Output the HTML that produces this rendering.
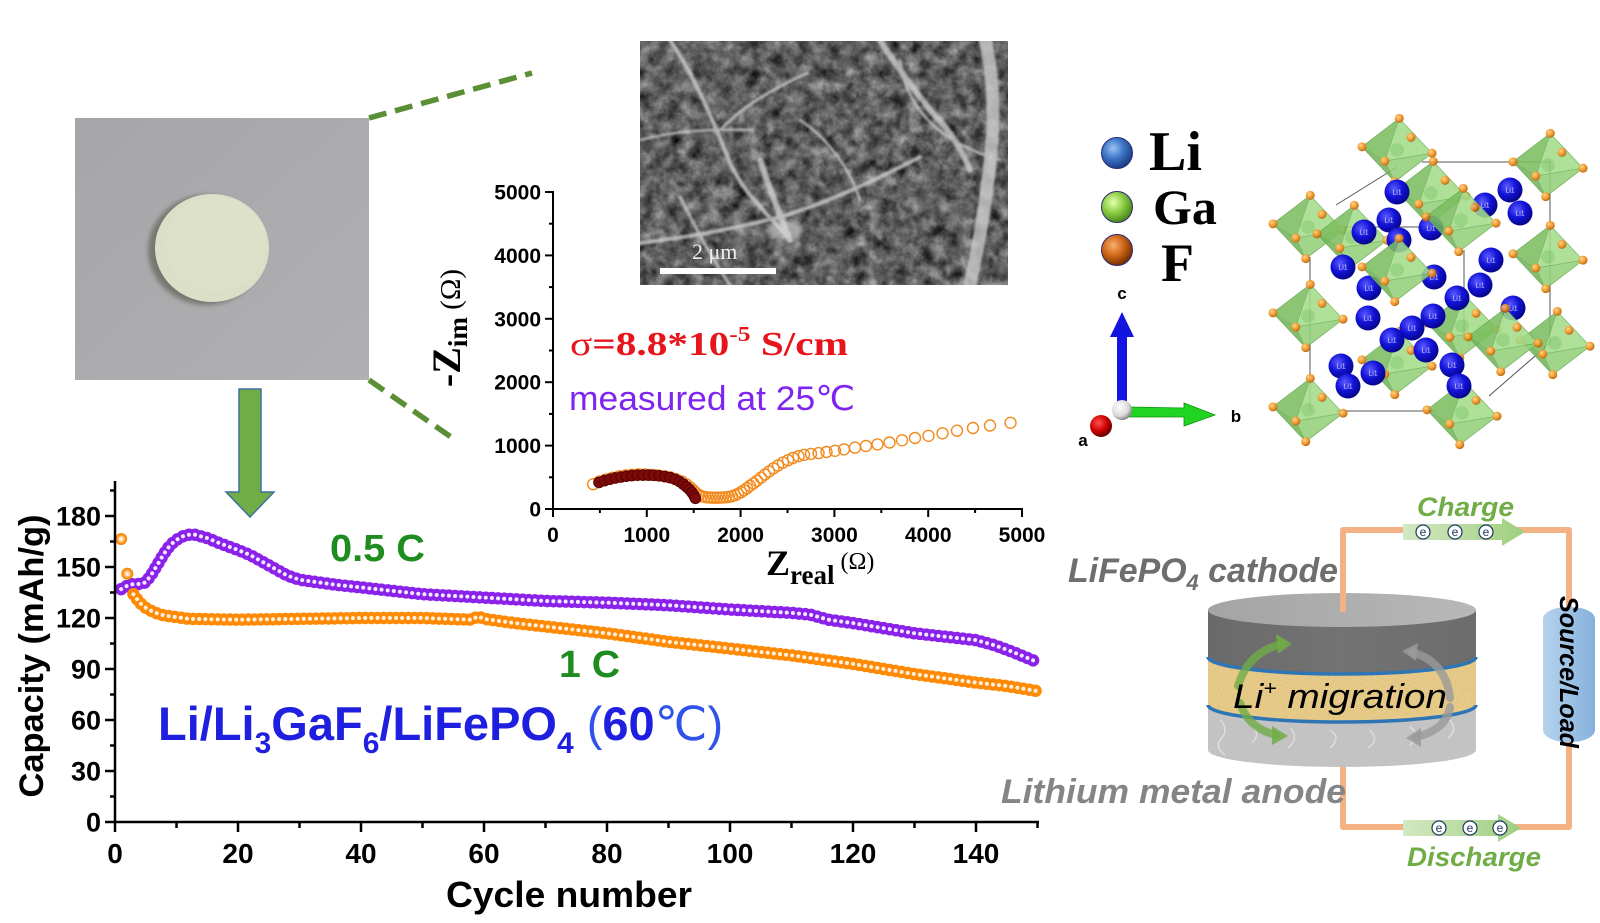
<!DOCTYPE html>
<html><head><meta charset="utf-8"><title>Li3GaF6 graphical abstract</title>
<style>html,body{margin:0;padding:0;background:#fff;}svg{display:block;}</style></head>
<body>
<svg width="1600" height="923" viewBox="0 0 1600 923" xmlns="http://www.w3.org/2000/svg" xmlns:xlink="http://www.w3.org/1999/xlink">
<defs>
  <radialGradient id="go" cx="0.5" cy="0.5" r="0.5">
    <stop offset="0" stop-color="#fffaf2"/><stop offset="0.3" stop-color="#ffe2bf"/>
    <stop offset="0.58" stop-color="#ffa640"/><stop offset="0.8" stop-color="#ff8c10"/><stop offset="1" stop-color="#f07c00"/>
  </radialGradient>
  <radialGradient id="gli" cx="0.38" cy="0.35" r="0.65">
    <stop offset="0" stop-color="#9cc4f2"/><stop offset="0.5" stop-color="#3f78c8"/><stop offset="1" stop-color="#1d3f86"/>
  </radialGradient>
  <radialGradient id="gga" cx="0.38" cy="0.35" r="0.65">
    <stop offset="0" stop-color="#e4ffb0"/><stop offset="0.5" stop-color="#8fd048"/><stop offset="1" stop-color="#4a8a1a"/>
  </radialGradient>
  <radialGradient id="gf" cx="0.38" cy="0.35" r="0.65">
    <stop offset="0" stop-color="#f7b070"/><stop offset="0.5" stop-color="#d06a1a"/><stop offset="1" stop-color="#7a3000"/>
  </radialGradient>
  <radialGradient id="gsph" cx="0.38" cy="0.35" r="0.65">
    <stop offset="0" stop-color="#5a5aff"/><stop offset="0.55" stop-color="#1212d8"/><stop offset="1" stop-color="#06068a"/>
  </radialGradient>
  <radialGradient id="gfo" cx="0.38" cy="0.35" r="0.65">
    <stop offset="0" stop-color="#ffd080"/><stop offset="0.6" stop-color="#f08c10"/><stop offset="1" stop-color="#b05a00"/>
  </radialGradient>
  <radialGradient id="gwhite" cx="0.38" cy="0.35" r="0.65">
    <stop offset="0" stop-color="#ffffff"/><stop offset="0.7" stop-color="#d8d8d8"/><stop offset="1" stop-color="#8a8a8a"/>
  </radialGradient>
  <radialGradient id="gred" cx="0.38" cy="0.35" r="0.65">
    <stop offset="0" stop-color="#ff5050"/><stop offset="0.6" stop-color="#cc0000"/><stop offset="1" stop-color="#6a0000"/>
  </radialGradient>
  <linearGradient id="gphoto" x1="0" y1="0" x2="1" y2="1">
    <stop offset="0" stop-color="#a6a6a8"/><stop offset="1" stop-color="#b0b0b2"/>
  </linearGradient>
  <linearGradient id="gtop" x1="0" y1="0" x2="1" y2="0">
    <stop offset="0" stop-color="#a4a4a4"/><stop offset="1" stop-color="#b8b8b8"/>
  </linearGradient>
  <linearGradient id="gdark" x1="0" y1="0" x2="1" y2="0">
    <stop offset="0" stop-color="#6a6a6a"/><stop offset="0.5" stop-color="#737373"/><stop offset="1" stop-color="#6c6c6c"/>
  </linearGradient>
  <linearGradient id="garrow" x1="0" y1="0" x2="1" y2="0">
    <stop offset="0" stop-color="#d3e8c2"/><stop offset="1" stop-color="#9fcf7e"/>
  </linearGradient>
  <linearGradient id="gtube" x1="0" y1="0" x2="1" y2="0">
    <stop offset="0" stop-color="#b7d2ee"/><stop offset="0.5" stop-color="#9dc3e6"/><stop offset="1" stop-color="#86b0dc"/>
  </linearGradient>
  <filter id="semf" x="640" y="41" width="368" height="244" filterUnits="userSpaceOnUse" color-interpolation-filters="sRGB">
    <feTurbulence type="fractalNoise" baseFrequency="0.075" numOctaves="4" seed="7"/>
    <feColorMatrix type="matrix" values="0.52 0.52 0 0 -0.15  0.52 0.52 0 0 -0.15  0.52 0.52 0 0 -0.15  0 0 0 0 1"/>
  </filter>
  <filter id="sandf" x="1200" y="640" width="290" height="90" filterUnits="userSpaceOnUse" color-interpolation-filters="sRGB">
    <feTurbulence type="fractalNoise" baseFrequency="0.6" numOctaves="2" seed="3"/>
    <feColorMatrix type="matrix" values="0 0 0 0 0.85  0 0 0 0 0.68  0 0 0 0 0.35  1.2 0 0 0 -0.55"/>
  </filter>
  <filter id="blur1"><feGaussianBlur stdDeviation="1"/></filter>
  <filter id="blur2"><feGaussianBlur stdDeviation="2.5"/></filter>
  <clipPath id="semclip"><rect x="640" y="41" width="368" height="244"/></clipPath>
  <clipPath id="yellowclip"><path d="M1208,657 L1208,705 A134,17 0 0 0 1476,705 L1476,657 A134,17 0 0 1 1208,657 Z"/></clipPath>

  <polyline id="pp" fill="none" points="121.15,589.1 127.3,585.7 133.45,584 139.6,584 145.75,582.3 151.9,573.8 158.05,563.6 164.2,553.4 170.35,544.9 176.5,539.8 182.65,536.4 188.8,534.7 194.95,534.7 201.1,536.4 207.25,538.1 219.55,543.2 238,550 250.3,555.1 268.75,565.3 287.2,575.5 299.5,579.75 317.95,582.3 336.4,584.85 361,587.4 391.75,590.8 422.5,594.2 453.25,595.9 484,597.6 545.5,601 607,602.7 668.5,605.25 730,609.5 760.75,611.2 791.5,612.9 809.95,614.6 828.4,619.7 853,623.1 883.75,628.2 914.5,633.3 945.25,636.7 976,640.1 994.45,645.2 1012.9,652 1025.2,657.1 1037.5,662.2"/>
  <polyline id="op" fill="none" points="133.45,594.2 139.6,602.7 145.75,607.8 151.9,611.2 158.05,613.75 164.2,615.45 176.5,617.15 188.8,618.85 238,619.7 299.5,618.85 361,618 422.5,618 471.7,619.7 477.85,616.3 484,618.85 514.75,623.1 545.5,626.5 607,633.3 668.5,641.8 730,648.6 791.5,655.4 853,663.9 914.5,674.1 976,682.6 1006.75,686 1037.5,691.1"/>

  <g id="oct" opacity="0.88"><g transform="scale(1.13)">
    <polygon points="2,-28 12.4,-11.2 31,2.8 -2,28 -31,-2.8" fill="#8fcf74" stroke="#6aaa55" stroke-width="0.8"/>
    <polygon points="2,-28 -31,-2.8 -10.85,9.8" fill="#7dbf62" stroke="#6aaa55" stroke-width="0.6"/>
    <polygon points="2,-28 -10.85,9.8 31,2.8" fill="#a3dc8a" stroke="#6aaa55" stroke-width="0.6"/>
    <polygon points="-2,28 -10.85,9.8 -31,-2.8" fill="#74b45a" stroke="#6aaa55" stroke-width="0.6"/>
    <polygon points="-2,28 31,2.8 -10.85,9.8" fill="#94d07b" stroke="#6aaa55" stroke-width="0.6"/>
    <circle cx="0" cy="0" r="6" fill="#7cc466" opacity="0.6"/>
    <circle cx="2" cy="-28" r="4" fill="url(#gfo)"/><circle cx="-2" cy="28" r="4" fill="url(#gfo)"/>
    <circle cx="-31" cy="-2.8" r="4" fill="url(#gfo)"/><circle cx="31" cy="2.8" r="4" fill="url(#gfo)"/>
    <circle cx="-10.85" cy="9.8" r="4" fill="url(#gfo)"/><circle cx="12.4" cy="-11.2" r="4" fill="url(#gfo)"/>
  </g></g>
  <g id="lis">
    <circle cx="0" cy="0" r="12.5" fill="url(#gsph)"/>
    <text x="0" y="2.5" font-family="Liberation Sans, sans-serif" font-size="7" text-anchor="middle" fill="#dcdcff">Li1</text>
  </g>
</defs>

<rect x="0" y="0" width="1600" height="923" fill="#ffffff"/>

<!-- Photo of pellet -->
<rect x="75" y="118" width="294" height="262" fill="url(#gphoto)"/>
<ellipse cx="206" cy="250" rx="58" ry="55" fill="#6e6e68" filter="url(#blur2)" opacity="0.85"/>
<ellipse cx="212" cy="248" rx="57" ry="54" fill="#dcdfc7"/>
<ellipse cx="216" cy="244" rx="50" ry="47" fill="#dfe2cb" opacity="0.6"/>

<!-- dashed zoom lines -->
<line x1="369" y1="118" x2="532" y2="73" stroke="#5b8f36" stroke-width="5.5" stroke-dasharray="18 9"/>
<line x1="369" y1="380" x2="451" y2="437" stroke="#5b8f36" stroke-width="5.5" stroke-dasharray="18 9"/>

<!-- green down arrow -->
<polygon points="239,389 261,389 261,492 274,492 250,517 226,492 239,492" fill="#70ad47" stroke="#41719c" stroke-width="1.5"/>

<!-- SEM image -->
<g clip-path="url(#semclip)">
  <rect x="640" y="41" width="368" height="244" fill="#5e5e5e"/>
  <rect x="640" y="41" width="368" height="244" filter="url(#semf)"/>
  <g fill="none" stroke="#d4d4d4" stroke-linecap="round" opacity="0.75" filter="url(#blur1)">
    <path d="M670,40 C690,70 705,100 730,163 C745,195 765,210 787,237" stroke-width="4"/>
    <path d="M880,40 C895,65 910,83 930,110 C950,130 962,150 970,170" stroke-width="6"/>
    <path d="M985,40 C995,80 995,130 988,180 C982,230 975,260 970,285" stroke-width="13"/>
    <path d="M640,243 C680,238 720,232 780,217 C820,205 860,188 920,157" stroke-width="4"/>
    <path d="M720,130 C740,110 760,95 807,73" stroke-width="3"/>
    <path d="M640,140 C660,135 690,128 753,130" stroke-width="2.5"/>
    <path d="M680,197 C690,215 700,240 730,285" stroke-width="3"/>
    <path d="M760,160 C770,190 778,210 790,240" stroke-width="6"/>
    <path d="M800,120 C830,140 850,170 860,200" stroke-width="2.5"/>
    <path d="M900,60 C905,100 930,140 1000,160" stroke-width="2.5"/>
  </g>
  <ellipse cx="785" cy="230" rx="18" ry="10" fill="#dedede" opacity="0.55" filter="url(#blur2)"/>
  <rect x="660" y="268" width="116" height="6" fill="#ffffff"/>
  <text x="692" y="259" font-family="Liberation Serif, serif" font-size="22" fill="#eeeeee">2 μm</text>
</g>

<!-- Nyquist plot axes -->
<g stroke="#000" stroke-width="2" fill="none">
  <line x1="553" y1="191" x2="553" y2="510"/>
  <line x1="552" y1="509" x2="1023" y2="509"/>
  <line x1="545" y1="509" x2="553" y2="509"/><line x1="545" y1="445.6" x2="553" y2="445.6"/>
  <line x1="545" y1="382.2" x2="553" y2="382.2"/><line x1="545" y1="318.8" x2="553" y2="318.8"/>
  <line x1="545" y1="255.4" x2="553" y2="255.4"/><line x1="545" y1="192" x2="553" y2="192"/>
  <line x1="549" y1="477.3" x2="553" y2="477.3"/><line x1="549" y1="413.9" x2="553" y2="413.9"/>
  <line x1="549" y1="350.5" x2="553" y2="350.5"/><line x1="549" y1="287.1" x2="553" y2="287.1"/>
  <line x1="549" y1="223.7" x2="553" y2="223.7"/>
  <line x1="553" y1="509" x2="553" y2="517"/><line x1="646.8" y1="509" x2="646.8" y2="517"/>
  <line x1="740.6" y1="509" x2="740.6" y2="517"/><line x1="834.4" y1="509" x2="834.4" y2="517"/>
  <line x1="928.2" y1="509" x2="928.2" y2="517"/><line x1="1022" y1="509" x2="1022" y2="517"/>
  <line x1="599.9" y1="509" x2="599.9" y2="513"/><line x1="693.7" y1="509" x2="693.7" y2="513"/>
  <line x1="787.5" y1="509" x2="787.5" y2="513"/><line x1="881.3" y1="509" x2="881.3" y2="513"/>
  <line x1="975.1" y1="509" x2="975.1" y2="513"/>
</g>
<g font-family="Liberation Sans, Arial, sans-serif" font-weight="bold" font-size="21" fill="#000">
  <g text-anchor="end">
    <text x="541" y="516.5">0</text><text x="541" y="453">1000</text><text x="541" y="389.7">2000</text>
    <text x="541" y="326.3">3000</text><text x="541" y="263">4000</text><text x="541" y="199.5">5000</text>
  </g>
  <g text-anchor="middle">
    <text x="553" y="542">0</text><text x="646.8" y="542">1000</text><text x="740.6" y="542">2000</text>
    <text x="834.4" y="542">3000</text><text x="928.2" y="542">4000</text><text x="1022" y="542">5000</text>
  </g>
</g>
<text transform="translate(460,328) rotate(-90)" text-anchor="middle" font-family="Liberation Serif, serif" fill="#000"><tspan font-weight="bold" font-size="40">-Z</tspan><tspan font-weight="bold" font-size="27" dy="7">im</tspan><tspan font-size="29" dy="-7"> (Ω)</tspan></text>
<text x="766" y="575" font-family="Liberation Serif, serif" fill="#000"><tspan font-weight="bold" font-size="36">Z</tspan><tspan font-weight="bold" font-size="27" dy="9">real</tspan><tspan font-size="24" dy="-15"> (Ω)</tspan></text>

<text x="570" y="355" font-family="Liberation Serif, serif" font-size="34" fill="#e8141c" textLength="278" lengthAdjust="spacingAndGlyphs"><tspan>σ</tspan><tspan font-weight="bold">=8.8*10</tspan><tspan font-weight="bold" font-size="21" dy="-14">-5</tspan><tspan font-weight="bold" dy="14"> S/cm</tspan></text>
<text x="569" y="410" font-family="Liberation Sans, DejaVu Sans, Noto Sans CJK SC, sans-serif" font-size="34" fill="#8024f2" textLength="286" lengthAdjust="spacingAndGlyphs">measured at 25℃</text>

<!-- Nyquist data: open orange circles -->
<g fill="none" stroke="#f28a1e" stroke-width="1.4">
<circle cx="593.2" cy="484.2" r="5.5"/><circle cx="599.5" cy="481.5" r="5.5"/><circle cx="606" cy="479.4" r="5.5"/><circle cx="612.5" cy="477.8" r="5.5"/><circle cx="619" cy="476.3" r="5.5"/><circle cx="625.5" cy="475.4" r="5.5"/><circle cx="632" cy="474.7" r="5.5"/><circle cx="638.5" cy="474.3" r="5.5"/><circle cx="645" cy="474.4" r="5.5"/><circle cx="651.5" cy="474.8" r="5.5"/><circle cx="658" cy="475.4" r="5.5"/><circle cx="664.5" cy="476.3" r="5.5"/><circle cx="670.5" cy="477.4" r="5.5"/><circle cx="676.5" cy="479.3" r="5.5"/><circle cx="682" cy="481.6" r="5.5"/><circle cx="686.5" cy="484.5" r="5.5"/><circle cx="690.5" cy="487.6" r="5.5"/>
<circle cx="693.5" cy="490.5" r="5.5"/><circle cx="696" cy="493" r="5.5"/><circle cx="699" cy="495" r="5.5"/><circle cx="702" cy="496.3" r="5.5"/><circle cx="705" cy="497" r="5.5"/><circle cx="708" cy="497.4" r="5.5"/><circle cx="711" cy="497.6" r="5.5"/><circle cx="714" cy="497.7" r="5.5"/><circle cx="717" cy="497.7" r="5.5"/><circle cx="720" cy="497.6" r="5.5"/><circle cx="723" cy="497.4" r="5.5"/><circle cx="726" cy="497.2" r="5.5"/><circle cx="729" cy="496.8" r="5.5"/><circle cx="732" cy="496.2" r="5.5"/><circle cx="735" cy="495.2" r="5.5"/><circle cx="738" cy="493.8" r="5.5"/><circle cx="741" cy="492.2" r="5.5"/><circle cx="744" cy="490.3" r="5.5"/><circle cx="747" cy="488.2" r="5.5"/>
<circle cx="750" cy="485.8" r="5.5"/><circle cx="753.5" cy="483.4" r="5.5"/><circle cx="757" cy="480.8" r="5.5"/><circle cx="761" cy="477.6" r="5.5"/><circle cx="765" cy="474.5" r="5.5"/><circle cx="769" cy="471.5" r="5.5"/><circle cx="773.5" cy="468.4" r="5.5"/><circle cx="778" cy="465.5" r="5.5"/><circle cx="783" cy="462.6" r="5.5"/><circle cx="788" cy="460.2" r="5.5"/><circle cx="793" cy="458" r="5.5"/><circle cx="798.5" cy="456.1" r="5.5"/><circle cx="804" cy="454.9" r="5.5"/>
<circle cx="811" cy="453.9" r="5.5"/><circle cx="818.5" cy="453.1" r="5.5"/><circle cx="826.5" cy="452" r="5.5"/><circle cx="835" cy="450.8" r="5.5"/><circle cx="844" cy="449.4" r="5.5"/>
<circle cx="855" cy="447.6" r="5.5"/><circle cx="866" cy="446" r="5.5"/><circle cx="877.5" cy="444.4" r="5.5"/><circle cx="889.5" cy="442.5" r="5.5"/><circle cx="902" cy="440.3" r="5.5"/><circle cx="915" cy="438" r="5.5"/><circle cx="928.5" cy="435.8" r="5.5"/><circle cx="942.5" cy="433.3" r="5.5"/><circle cx="957" cy="430.7" r="5.5"/><circle cx="973" cy="428" r="5.5"/><circle cx="990" cy="425.5" r="5.5"/><circle cx="1010.5" cy="422.8" r="5.5"/>
</g>
<!-- Nyquist data: filled dark red -->
<g fill="#7d0a0a" stroke="#5a0000" stroke-width="1">
<circle cx="599" cy="482.4" r="5.3"/><circle cx="604.5" cy="480.6" r="5.3"/><circle cx="610" cy="479.2" r="5.3"/><circle cx="615.5" cy="477.9" r="5.3"/><circle cx="621" cy="477" r="5.3"/><circle cx="626.5" cy="476.2" r="5.3"/><circle cx="632" cy="475.6" r="5.3"/><circle cx="637.5" cy="475.2" r="5.3"/><circle cx="643" cy="475.1" r="5.3"/><circle cx="648.5" cy="475.1" r="5.3"/><circle cx="654" cy="475.3" r="5.3"/><circle cx="659.5" cy="475.8" r="5.3"/><circle cx="665" cy="476.6" r="5.3"/><circle cx="670" cy="477.6" r="5.3"/><circle cx="675" cy="479.3" r="5.3"/><circle cx="679.5" cy="481.5" r="5.3"/><circle cx="683.2" cy="484.1" r="5.3"/><circle cx="686.5" cy="486.8" r="5.3"/><circle cx="689.5" cy="489.5" r="5.3"/><circle cx="692" cy="492.5" r="5.3"/><circle cx="694" cy="495.5" r="5.3"/><circle cx="695.4" cy="498.3" r="5.3"/>
</g>

<!-- Legend Li Ga F -->
<circle cx="1117" cy="153" r="15.5" fill="url(#gli)" stroke="#2a2a7a" stroke-width="1"/>
<circle cx="1117" cy="207" r="15.5" fill="url(#gga)" stroke="#2a2a7a" stroke-width="1"/>
<circle cx="1117" cy="250" r="15.5" fill="url(#gf)" stroke="#2a2a7a" stroke-width="1"/>
<g font-family="Liberation Serif, serif" font-weight="bold" fill="#000">
  <text x="1149" y="170" font-size="56">Li</text>
  <text x="1153" y="224" font-size="50">Ga</text>
  <text x="1161" y="281" font-size="54">F</text>
</g>

<!-- axis triad -->
<g font-family="Liberation Sans, Arial, sans-serif" font-weight="bold" font-size="17" fill="#000" text-anchor="middle">
  <text x="1122" y="299">c</text><text x="1236" y="422">b</text><text x="1083" y="446">a</text>
</g>
<rect x="1117" y="335" width="10" height="70" fill="#1414e0"/>
<polygon points="1110,337 1134,337 1122,312" fill="#1414e0"/>
<polygon points="1128,407 1184,408 1184,403 1215,415 1184,426 1184,417 1128,417" fill="#22d422" stroke="#109010" stroke-width="0.8"/>
<circle cx="1101" cy="426" r="11" fill="url(#gred)"/>
<circle cx="1122" cy="410" r="10" fill="url(#gwhite)"/>

<!-- crystal structure -->
<g stroke="#555" stroke-width="1" fill="none">
  <line x1="1422" y1="162" x2="1550" y2="162"/><line x1="1550" y1="162" x2="1550" y2="343"/>
  <line x1="1550" y1="343" x2="1489" y2="396"/><line x1="1336" y1="205" x2="1397" y2="167"/>
  <line x1="1310" y1="257" x2="1310" y2="410"/><line x1="1336" y1="411" x2="1436" y2="411"/>
  <line x1="1336" y1="227" x2="1464" y2="227"/><line x1="1464" y1="250" x2="1464" y2="340"/>
</g>
<use href="#oct" xlink:href="#oct" x="1397" y="150"/>
<use href="#oct" xlink:href="#oct" x="1308" y="227"/>
<use href="#oct" xlink:href="#oct" x="1431" y="193"/>
<use href="#oct" xlink:href="#oct" x="1548" y="257"/>
<use href="#oct" xlink:href="#oct" x="1352" y="237"/>
<use href="#oct" xlink:href="#oct" x="1308" y="316"/>
<use href="#oct" xlink:href="#oct" x="1462" y="326"/>
<use href="#oct" xlink:href="#oct" x="1555" y="343"/>
<use href="#oct" xlink:href="#oct" x="1397" y="363"/>
<use href="#oct" xlink:href="#oct" x="1462" y="413"/>
<g>
<use href="#lis" xlink:href="#lis" x="1397" y="192"/><use href="#lis" xlink:href="#lis" x="1510" y="190"/>
<use href="#lis" xlink:href="#lis" x="1485" y="205"/><use href="#lis" xlink:href="#lis" x="1520" y="213"/>
<use href="#lis" xlink:href="#lis" x="1389" y="220"/><use href="#lis" xlink:href="#lis" x="1364" y="232"/>
<use href="#lis" xlink:href="#lis" x="1399" y="240"/><use href="#lis" xlink:href="#lis" x="1431" y="228"/>
<use href="#lis" xlink:href="#lis" x="1491" y="260"/><use href="#lis" xlink:href="#lis" x="1343" y="267"/>
<use href="#lis" xlink:href="#lis" x="1434" y="277"/><use href="#lis" xlink:href="#lis" x="1369" y="288"/>
<use href="#lis" xlink:href="#lis" x="1480" y="285"/><use href="#lis" xlink:href="#lis" x="1457" y="298"/>
<use href="#lis" xlink:href="#lis" x="1433" y="316"/><use href="#lis" xlink:href="#lis" x="1368" y="318"/>
<use href="#lis" xlink:href="#lis" x="1412" y="328"/><use href="#lis" xlink:href="#lis" x="1392" y="340"/>
<use href="#lis" xlink:href="#lis" x="1426" y="350"/><use href="#lis" xlink:href="#lis" x="1341" y="366"/>
<use href="#lis" xlink:href="#lis" x="1452" y="365"/><use href="#lis" xlink:href="#lis" x="1373" y="373"/>
<use href="#lis" xlink:href="#lis" x="1348" y="386"/><use href="#lis" xlink:href="#lis" x="1459" y="386"/>
<use href="#lis" xlink:href="#lis" x="1513" y="308"/>
</g>
<use href="#oct" xlink:href="#oct" x="1548" y="165"/>
<use href="#oct" xlink:href="#oct" x="1461" y="220"/>
<use href="#oct" xlink:href="#oct" x="1397" y="270"/>
<use href="#oct" xlink:href="#oct" x="1503" y="340"/>
<use href="#oct" xlink:href="#oct" x="1308" y="410"/>

<!-- Capacity data -->
<g fill="none" stroke-linecap="round" stroke-dasharray="0.01 6.14">
  <use href="#pp" xlink:href="#pp" stroke="#8a22ea" stroke-width="12.5"/>
  <use href="#pp" xlink:href="#pp" stroke="#f3eaff" stroke-width="4"/>
</g>
<circle cx="121.15" cy="538.95" r="6" fill="url(#go)"/>
<circle cx="127.3" cy="573.8" r="6" fill="url(#go)"/>
<g fill="none" stroke-linecap="round" stroke-dasharray="0.01 6.14">
  <use href="#op" xlink:href="#op" stroke="#ff8a05" stroke-width="12.5"/>
  <use href="#op" xlink:href="#op" stroke="#fff2e0" stroke-width="4"/>
</g>

<!-- Capacity axes -->
<g stroke="#000" stroke-width="2.5" fill="none">
  <line x1="115" y1="481" x2="115" y2="823"/>
  <line x1="114" y1="822" x2="1039" y2="822"/>
  <line x1="105" y1="822" x2="115" y2="822"/><line x1="110" y1="796.5" x2="115" y2="796.5"/>
  <line x1="105" y1="771" x2="115" y2="771"/><line x1="110" y1="745.5" x2="115" y2="745.5"/>
  <line x1="105" y1="720" x2="115" y2="720"/><line x1="110" y1="694.5" x2="115" y2="694.5"/>
  <line x1="105" y1="669" x2="115" y2="669"/><line x1="110" y1="643.5" x2="115" y2="643.5"/>
  <line x1="105" y1="618" x2="115" y2="618"/><line x1="110" y1="592.5" x2="115" y2="592.5"/>
  <line x1="105" y1="567" x2="115" y2="567"/><line x1="110" y1="541.5" x2="115" y2="541.5"/>
  <line x1="105" y1="516" x2="115" y2="516"/><line x1="110" y1="490.5" x2="115" y2="490.5"/>
  <line x1="115" y1="822" x2="115" y2="832"/><line x1="176.5" y1="822" x2="176.5" y2="828"/>
  <line x1="238" y1="822" x2="238" y2="832"/><line x1="299.5" y1="822" x2="299.5" y2="828"/>
  <line x1="361" y1="822" x2="361" y2="832"/><line x1="422.5" y1="822" x2="422.5" y2="828"/>
  <line x1="484" y1="822" x2="484" y2="832"/><line x1="545.5" y1="822" x2="545.5" y2="828"/>
  <line x1="607" y1="822" x2="607" y2="832"/><line x1="668.5" y1="822" x2="668.5" y2="828"/>
  <line x1="730" y1="822" x2="730" y2="832"/><line x1="791.5" y1="822" x2="791.5" y2="828"/>
  <line x1="853" y1="822" x2="853" y2="832"/><line x1="914.5" y1="822" x2="914.5" y2="828"/>
  <line x1="976" y1="822" x2="976" y2="832"/><line x1="1037.5" y1="822" x2="1037.5" y2="828"/>
</g>
<g font-family="Liberation Sans, Arial, sans-serif" font-weight="bold" fill="#000">
  <g font-size="27" text-anchor="end">
    <text x="101" y="831.5">0</text><text x="101" y="780.5">30</text><text x="101" y="729.5">60</text>
    <text x="101" y="678.5">90</text><text x="101" y="627.5">120</text><text x="101" y="576.5">150</text><text x="101" y="525.5">180</text>
  </g>
  <g font-size="28" text-anchor="middle">
    <text x="115" y="863">0</text><text x="238" y="863">20</text><text x="361" y="863">40</text><text x="484" y="863">60</text>
    <text x="607" y="863">80</text><text x="730" y="863">100</text><text x="853" y="863">120</text><text x="976" y="863">140</text>
  </g>
  <text x="446" y="907" font-size="36" textLength="246" lengthAdjust="spacingAndGlyphs">Cycle number</text>
  <text transform="translate(43,656) rotate(-90)" text-anchor="middle" font-size="34" textLength="283" lengthAdjust="spacingAndGlyphs">Capacity (mAh/g)</text>
  <text x="330" y="561" font-size="38" fill="#1e8c1e" textLength="95" lengthAdjust="spacingAndGlyphs">0.5 C</text>
  <text x="559" y="677" font-size="38" fill="#1e8c1e" textLength="61" lengthAdjust="spacingAndGlyphs">1 C</text>
</g>
<text x="158" y="740" font-family="Liberation Sans, DejaVu Sans, Noto Sans CJK SC, sans-serif" font-size="47" font-weight="bold" fill="#1f1fe0">Li/Li<tspan font-size="30" dy="13">3</tspan><tspan dy="-13">GaF</tspan><tspan font-size="30" dy="13">6</tspan><tspan dy="-13">/LiFePO</tspan><tspan font-size="30" dy="13">4</tspan><tspan dy="-13"> </tspan><tspan font-weight="normal" fill="#2f52ea">(</tspan><tspan>60</tspan><tspan font-weight="normal" fill="#2f52ea">℃)</tspan></text>

<!-- Battery schematic -->
<g fill="none" stroke="#f4b183" stroke-width="6" stroke-linejoin="round">
  <polyline points="1343,612 1343,530 1569,530 1569,827 1343,827 1343,760"/>
</g>
<rect x="1543" y="607" width="52" height="135" rx="24" ry="12" fill="url(#gtube)"/>
<polygon points="1403,524 1502,524 1502,518 1525,532 1502,546 1502,540 1403,540" fill="url(#garrow)"/>
<polygon points="1403,820 1498,820 1498,814 1521,828 1498,842 1498,836 1403,836" fill="url(#garrow)"/>
<g stroke="#1f3864" stroke-width="1.2" fill="#ffffff">
  <circle cx="1423" cy="532" r="7"/><circle cx="1455" cy="532" r="7"/><circle cx="1486" cy="532" r="7"/>
  <circle cx="1439" cy="828" r="7"/><circle cx="1470" cy="828" r="7"/><circle cx="1500" cy="828" r="7"/>
</g>
<g font-family="Liberation Sans, Arial, sans-serif" font-size="12" fill="#1f3864" text-anchor="middle">
  <text x="1423" y="536">e</text><text x="1455" y="536">e</text><text x="1486" y="536">e</text>
  <text x="1439" y="832">e</text><text x="1470" y="832">e</text><text x="1500" y="832">e</text>
</g>
<g font-family="Liberation Sans, Arial, sans-serif" font-weight="bold" font-style="italic" fill="#70ad47">
  <text x="1417" y="516" font-size="27" textLength="97" lengthAdjust="spacingAndGlyphs">Charge</text>
  <text x="1407" y="866" font-size="27" textLength="134" lengthAdjust="spacingAndGlyphs">Discharge</text>
</g>

<path d="M1208,705 L1208,750 A134,17 0 0 0 1476,750 L1476,705 A134,17 0 0 1 1208,705 Z" fill="#c3c3c3"/>
<g fill="none" stroke="#e4e4e4" stroke-width="1.5" opacity="0.8">
  <path d="M1220,720 q10,10 0,20 q-5,8 5,15"/><path d="M1250,725 q12,8 2,18"/><path d="M1290,728 q10,10 -2,20"/>
  <path d="M1330,730 q12,8 0,18"/><path d="M1370,730 q10,10 -2,18"/><path d="M1410,727 q12,8 0,18"/><path d="M1450,720 q8,10 -2,18"/>
</g>
<path d="M1208,657 L1208,705 A134,17 0 0 0 1476,705 L1476,657 A134,17 0 0 1 1208,657 Z" fill="#e6cb8b"/>
<g clip-path="url(#yellowclip)"><rect x="1200" y="640" width="290" height="90" filter="url(#sandf)"/></g>
<path d="M1208,610 L1208,657 A134,17 0 0 0 1476,657 L1476,610 Z" fill="url(#gdark)"/>
<ellipse cx="1342" cy="610" rx="134" ry="17" fill="url(#gtop)"/>
<path d="M1208,657 A134,17 0 0 0 1476,657" fill="none" stroke="#2e75b6" stroke-width="3.5"/>
<path d="M1208,705 A134,17 0 0 0 1476,705" fill="none" stroke="#2e75b6" stroke-width="3.5"/>
<line x1="1343" y1="585" x2="1343" y2="612" stroke="#f4b183" stroke-width="6"/>
<g fill="none" stroke-linecap="round">
  <path d="M1282,644 Q1248,652 1238,686" stroke="#70ad47" stroke-width="8" opacity="0.8"/>
  <path d="M1240,703 Q1248,728 1276,735" stroke="#70ad47" stroke-width="8" opacity="0.8"/>
  <path d="M1412,652 Q1446,662 1450,698" stroke="#9a9a9a" stroke-width="8" opacity="0.8"/>
  <path d="M1450,707 Q1446,730 1416,737" stroke="#9a9a9a" stroke-width="8" opacity="0.8"/>
</g>
<polygon points="1276,634 1292,644 1278,654" fill="#70ad47" opacity="0.85"/>
<polygon points="1272,726 1288,736 1272,745" fill="#70ad47" opacity="0.85"/>
<polygon points="1418,643 1402,651 1416,661" fill="#9a9a9a" opacity="0.85"/>
<polygon points="1421,728 1406,738 1421,747" fill="#9a9a9a" opacity="0.85"/>
<text x="1233" y="708" font-family="Liberation Sans, Arial, sans-serif" font-style="italic" font-size="34" fill="#000" textLength="214" lengthAdjust="spacingAndGlyphs">Li<tspan font-size="20" dy="-13">+</tspan><tspan dy="13"> migration</tspan></text>

<g font-family="Liberation Sans, Arial, sans-serif" font-weight="bold" font-style="italic">
  <text x="1068" y="582" font-size="34" fill="#6e6e6e" textLength="270" lengthAdjust="spacingAndGlyphs">LiFePO<tspan font-size="22" dy="8">4</tspan><tspan dy="-8"> cathode</tspan></text>
  <text x="1001" y="803" font-size="34" fill="#858585" textLength="345" lengthAdjust="spacingAndGlyphs">Lithium metal anode</text>
  <text transform="translate(1560,596) rotate(90)" font-size="26" fill="#000" textLength="152" lengthAdjust="spacingAndGlyphs">Source/Load</text>
</g>
</svg>
</body></html>
